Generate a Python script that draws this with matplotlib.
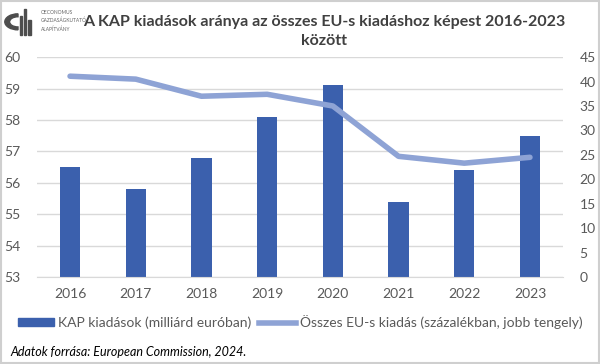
"""KAP kiadások vs. összes EU-s kiadás — kombinált oszlop + vonal diagram."""

import numpy as np
import matplotlib
matplotlib.use("Agg")
import matplotlib.pyplot as plt
from matplotlib.patches import Rectangle, Wedge

# adatok
years = ["2016", "2017", "2018", "2019", "2020", "2021", "2022", "2023"]
kap_bn = [56.5, 55.8, 56.8, 58.1, 59.1, 55.4, 56.4, 57.5]
share_pct = [41.1, 40.5, 37.0, 37.4, 35.0, 24.7, 23.3, 24.5]
left_ticks = [53, 54, 55, 56, 57, 58, 59, 60]
right_ticks = [0, 5, 10, 15, 20, 25, 30, 35, 40, 45]

title = "A KAP kiadások aránya az összes EU-s kiadáshoz képest 2016-2023\nközött"
bar_label = "KAP kiadások (milliárd euróban)"
line_label = "Összes EU-s kiadás (százalékban, jobb tengely)"
source = "Adatok forrása: European Commission, 2024."

BAR_COLOR = "#3b60ad"
LINE_COLOR = "#8ea3d5"
TICK_COLOR = "#595959"
FONT = ["Lato", "DejaVu Sans"]

plt.rcParams["font.family"] = FONT

fig = plt.figure(figsize=(6, 3.64), dpi=100)
ax = fig.add_axes([0.062, 0.239, 0.876, 0.604])
ax2 = ax.twinx()

x = np.arange(len(years))
ax.bar(x, np.array(kap_bn) - 53, bottom=53, width=0.31, color=BAR_COLOR, zorder=2)
ax2.plot(x, share_pct, color=LINE_COLOR, linewidth=4, solid_capstyle="round",
         solid_joinstyle="round", zorder=3)

ax.set_xlim(-0.5, len(years) - 0.5)
ax.set_ylim(53, 60)
ax.set_yticks(left_ticks)
ax2.set_ylim(0, 45)
ax2.set_yticks(right_ticks)
ax.set_xticks(x)
ax.set_xticklabels(years)

ax.grid(axis="y", color="#d9d9d9", linewidth=1, zorder=0)
ax.set_axisbelow(True)
for a in (ax, ax2):
    for s in a.spines.values():
        s.set_visible(False)
    a.tick_params(length=0, labelsize=10, labelcolor=TICK_COLOR)
ax.tick_params(axis="x", pad=8)
ax.tick_params(axis="y", pad=12)
ax2.tick_params(axis="y", pad=12)
ax.spines["bottom"].set_visible(True)
ax.spines["bottom"].set_color("#d9d9d9")
ax.set_zorder(1)
ax2.set_zorder(2)
ax2.patch.set_visible(False)

fig.text(0.54, 0.96, title, ha="center", va="top", fontsize=11.5,
         fontweight="bold", color="#404040", linespacing=1.5)

# legend
h1 = Rectangle((0, 0), 1, 1, color=BAR_COLOR)
(h2,) = ax2.plot([], [], color=LINE_COLOR, linewidth=4)
fig.legend([h1, h2], [bar_label, line_label], loc="center", ncol=2,
           bbox_to_anchor=(0.5, 0.115), frameon=False, fontsize=10,
           labelcolor=TICK_COLOR, handlelength=2.6, handleheight=0.5,
           columnspacing=0.6, handletextpad=0.3)

fig.text(0.017, 0.032, source, ha="left", va="center", fontsize=9,
         fontstyle="italic", color="#000000")

# logo (egyszerűsítve)
fig.patches.append(Wedge((0.03, 0.94), 0.022, 90, 270, width=0.008,
                         transform=fig.transFigure, color="#4d4d4d"))
for i, h in enumerate([0.05, 0.07, 0.04]):
    fig.patches.append(Rectangle((0.033 + i * 0.007, 0.905), 0.004, h,
                                 transform=fig.transFigure, color="#4d4d4d"))
for i, t in enumerate(["OECONOMUS", "GAZDASÁGKUTATÓ", "ALAPÍTVÁNY"]):
    fig.text(0.068, 0.965 - i * 0.022, t, fontsize=3.5, color="#666666",
             va="center", ha="left")

# keret
fig.patches.append(Rectangle((0.002, 0.003), 0.996, 0.994, transform=fig.transFigure,
                             fill=False, edgecolor="#cfcfcf", linewidth=1.5))

fig.savefig("out.png", dpi=100)
